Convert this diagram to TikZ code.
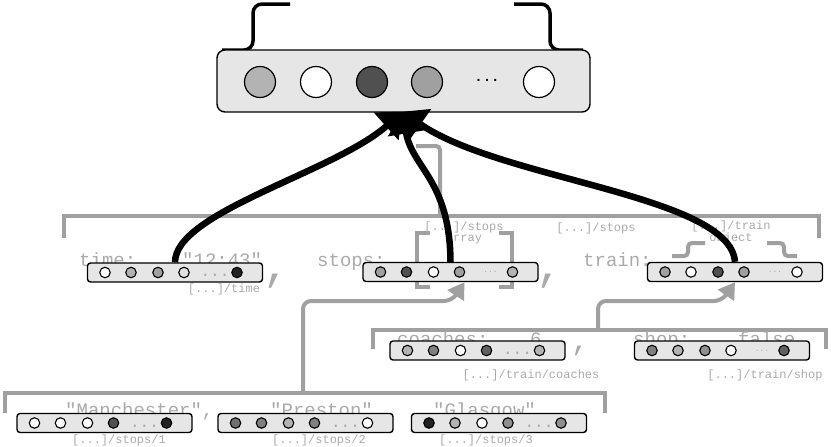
\documentclass[tikz,border=0pt]{standalone}
\usepackage{fontspec}
\setmonofont{Liberation Mono}
\usetikzlibrary{arrows.meta}
\definecolor{boxfill}{HTML}{E6E6E6}
\definecolor{lbl}{HTML}{AAAAAA}
\definecolor{brk}{HTML}{A0A0A0}
\definecolor{ell}{HTML}{A8A8A8}
\definecolor{g20}{HTML}{222222}
\definecolor{g50}{HTML}{505050}
\definecolor{g60}{HTML}{606060}
\definecolor{g70}{HTML}{707070}
\definecolor{g80}{HTML}{808080}
\definecolor{g90}{HTML}{909090}
\definecolor{gA0}{HTML}{A0A0A0}
\definecolor{gB3}{HTML}{B3B3B3}
\definecolor{gE0}{HTML}{E0E0E0}
\tikzset{
 keytxt/.style={text=lbl, font=\ttfamily\fontsize{19}{19}\selectfont, inner sep=0, anchor=base west},
 pathtxt/.style={text=lbl, font=\ttfamily\fontsize{12}{10.5}\selectfont, inner sep=0, align=center},
 vecbox/.style={draw=black, line width=1.4, fill=boxfill, rounded corners=3, minimum width=175, minimum height=19, inner sep=0},
 vdot/.style={circle, draw=black, line width=1.1, minimum size=10.5, inner sep=0},
 bigdot/.style={circle, draw=black, line width=1.2, minimum size=31, inner sep=0},
 bigell/.style={text=ell, font=\ttfamily\fontsize{16}{16}\selectfont, inner sep=0, yshift=-3},
 smallell/.style={text=ell, font=\ttfamily\fontsize{8}{8}\selectfont, inner sep=0},
 gline/.style={draw=brk, line width=4},
 garrow/.style={draw=brk, line width=4, rounded corners=8, -{Triangle[length=16pt,width=19pt]}},
 barrow/.style={draw=black, line width=6.5, -{Triangle[length=22pt,width=36pt]}},
 bracestyle/.style={draw=black, line width=3.5, rounded corners=9},
 bigcomma/.style={text=lbl, font=\ttfamily\fontsize{44}{44}\selectfont, inner sep=0, anchor=base},
}
\newcommand{\mkvec}[9]{%
  \node[vecbox] (#1) at (#2,#3) {};
  \node[vdot,fill=#4] (#1-1) at ([xshift=-70pt]#1.center) {};
  \node[vdot,fill=#5] (#1-2) at ([xshift=-44pt]#1.center) {};
  \node[vdot,fill=#6] (#1-3) at ([xshift=-17pt]#1.center) {};
  \node[vdot,fill=#7] (#1-4) at ([xshift=9pt]#1.center) {};
  \node[#9] (#1-e) at ([xshift=40pt]#1.center) {...};
  \node[vdot,fill=#8] (#1-5) at ([xshift=62pt]#1.center) {};
}
\begin{document}
\begin{tikzpicture}[x=1pt,y=-1pt]
\useasboundingbox (0,0) rectangle (831,447);

% ---------- gray brackets ----------
\draw[gline] (64,238) -- (64,216) -- (819,216) -- (819,238);
\draw[gline, rounded corners=4] (440,216) -- (440,146) -- (416,146);
\draw[gline] (373,349) -- (373,330) -- (826,330) -- (826,349);
\draw[gline] (5,413) -- (5,393) -- (605,393) -- (605,413);
% stops array brackets
\draw[gline] (430,233) -- (417,233) -- (417,287) -- (430,287);
\draw[gline] (499,233) -- (512,233) -- (512,287) -- (499,287);
% train object braces
\draw[gline, rounded corners=4] (672,256) -- (688,256) -- (688,243) -- (705,243);
\draw[gline, rounded corners=4] (767,243) -- (784,243) -- (784,256) -- (797,256);

% ---------- texts ----------
\node[keytxt] (ktime) at (79,266) {time:};
\node[keytxt] (vtime) at (182,266) {"12:43"};
\node[keytxt] (kstops) at (317,266) {stops:};
\node[keytxt] (ktrain) at (583,266) {train:};
\node[keytxt] (kcoach) at (397,345) {coaches:};
\node[keytxt] (vcoach) at (530,345) {6};
\node[keytxt] (kshop) at (633,345) {shop:};
\node[keytxt] (vshop) at (738,345) {false};
\node[keytxt] (vman) at (65,416) {"Manchester",};
\node[keytxt] (vpre) at (270,416) {"Preston"};
\node[keytxt] (vgla) at (433,416) {"Glasgow"};

\node[bigcomma] (c1) at (277,280) {,};
\node[bigcomma] (c2) at (550,280) {,};
\node[bigcomma, font=\ttfamily\fontsize{30}{30}\selectfont] (c3) at (580,350) {,};

\node[pathtxt] (ptime) at (224,289) {[...]/time};
\node[pathtxt] (pstops) at (464,233) {[...]/stops\\array};
\node[pathtxt] (pstops2) at (596,228) {[...]/stops};
\node[pathtxt] (ptrain) at (731,232) {[...]/train\\object};
\node[pathtxt] (pcoach) at (531,375) {[...]/train/coaches};
\node[pathtxt] (pshop) at (765,375) {[...]/train/shop};
\node[pathtxt] (ps1) at (119,440) {[...]/stops/1};
\node[pathtxt] (ps2) at (319,440) {[...]/stops/2};
\node[pathtxt] (ps3) at (486,440) {[...]/stops/3};

% ---------- vector boxes ----------
\mkvec{time}{175}{272.5}{white}{gB3}{gA0}{gE0}{g20}{bigell}
\mkvec{stops}{450.5}{272}{gA0}{g50}{white}{gA0}{gB3}{smallell}
\mkvec{train}{735}{272}{gA0}{white}{g50}{gA0}{white}{smallell}
\mkvec{coach}{477.5}{350.5}{gB3}{g80}{white}{g60}{gB3}{bigell}
\mkvec{shop}{722}{350.5}{g80}{gB3}{g90}{white}{g60}{smallell}
\mkvec{man}{104.5}{423}{white}{white}{white}{g50}{g20}{bigell}
\mkvec{pre}{305.5}{423}{g70}{g80}{gB3}{g80}{white}{bigell}
\mkvec{gla}{499}{423}{g20}{gB3}{white}{g90}{g90}{bigell}

% ---------- gray arrows ----------
\draw[garrow] (303,393) -- (303,301) -- (452,301) -- ([xshift=14pt]stops.south);
\draw[garrow] (598,330) -- (598,301) -- (722,301) -- (train.south);

% ---------- top box ----------
\draw[bracestyle] (222,50) -- (253,50) -- (253,4) -- (290,4);
\draw[bracestyle] (514,4) -- (550,4) -- (550,50) -- (583,50);
\node[draw=black, line width=1.4, fill=boxfill, rounded corners=8, minimum width=373, minimum height=62, inner sep=0] (main) at (403.5,81) {};
\node[bigdot, fill=gB3] (m1) at (260,82) {};
\node[bigdot, fill=white] (m2) at (316,82) {};
\node[bigdot, fill=g50] (m3) at (372,82) {};
\node[bigdot, fill=gA0] (m4) at (427,82) {};
\node[inner sep=0, font=\ttfamily\bfseries\fontsize{14}{14}\selectfont] (me) at (487,80) {...};
\node[bigdot, fill=white] (m5) at (539,82) {};

% ---------- black arrows ----------
\coordinate (tip) at ([xshift=-1pt,yshift=1pt]main.south);
\draw[barrow] (time.north) .. controls (175,212) and (335,172) .. (tip);
\draw[barrow] (stops.north) .. controls (450,180) and (412,168) .. (tip);
\draw[barrow] (train.north) .. controls (730,195) and (500,180) .. (tip);
\end{tikzpicture}
\end{document}
